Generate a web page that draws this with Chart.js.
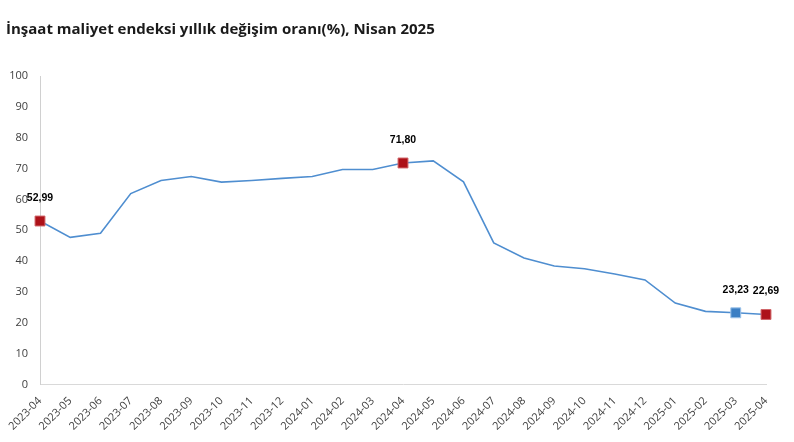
<!DOCTYPE html>
<html>
<head>
<meta charset="utf-8">
<script src="https://cdn.jsdelivr.net/npm/chart.js@4.4.1/dist/chart.umd.min.js"></script>
<style>
  html, body { margin: 0; padding: 0; background: #fff; }
  #wrap { width: 794px; height: 442px; position: relative; }
</style>
</head>
<body>
<div id="wrap"><canvas id="chart"></canvas></div>
<script>
const aylar = ['2023-04','2023-05','2023-06','2023-07','2023-08','2023-09','2023-10','2023-11','2023-12',
  '2024-01','2024-02','2024-03','2024-04','2024-05','2024-06','2024-07','2024-08','2024-09','2024-10',
  '2024-11','2024-12','2025-01','2025-02','2025-03','2025-04'];
const degisim = [52.99, 47.7, 49.0, 61.9, 66.1, 67.4, 65.6, 66.1, 66.8,
  67.4, 69.7, 69.7, 71.80, 72.5, 65.7, 45.9, 41.0, 38.4, 37.5,
  35.8, 33.9, 26.4, 23.7, 23.23, 22.69];
const etiketli = [0, 12, 23, 24]; // veri etiketi olan noktalar
const yTikler = [0, 10, 20, 30, 40, 50, 60, 70, 80, 90, 100];

const kirmizi = '#ad1219';
const mavi = '#3b7fc4';

// noktalarin ustune deger yazan basit eklenti
const etiketEklentisi = {
  id: 'etiketler',
  afterDatasetsDraw(chart) {
    const ctx = chart.ctx;
    const meta = chart.getDatasetMeta(0);
    ctx.save();
    ctx.font = 'bold 10.5px Arial, "Liberation Sans", sans-serif';
    ctx.fillStyle = '#000';
    ctx.textAlign = 'center';
    ctx.textBaseline = 'middle';
    etiketli.forEach(i => {
      const p = meta.data[i];
      const txt = degisim[i].toFixed(2).replace('.', ',');
      ctx.fillText(txt, p.x, p.y - 23);
    });
    ctx.restore();
  }
};

const ctx = document.getElementById('chart').getContext('2d');
new Chart(ctx, {
  type: 'line',
  data: {
    labels: aylar,
    datasets: [{
      data: degisim,
      borderColor: '#4f8ed0',
      borderWidth: 1.6,
      tension: 0,
      fill: false,
      pointStyle: 'rect',
      pointRadius: degisim.map((v, i) => etiketli.includes(i) ? 7 : 0),
      pointBackgroundColor: degisim.map((v, i) => i === 23 ? mavi : kirmizi),
      pointBorderColor: degisim.map((v, i) => i === 23 ? '#9cc3ea' : '#d0666a'),
      pointBorderWidth: 1
    }]
  },
  options: {
    responsive: true,
    maintainAspectRatio: false,
    animation: false,
    layout: { padding: { left: 6, right: 28, top: 4, bottom: 7 } },
    plugins: {
      legend: { display: false },
      tooltip: { enabled: false },
      title: {
        display: true,
        text: 'İnşaat maliyet endeksi yıllık değişim oranı(%), Nisan 2025',
        align: 'start',
        color: '#1a1a1a',
        font: { family: '"Open Sans", sans-serif', size: 15, weight: 'bold' },
        padding: { top: 17, bottom: 37 }
      }
    },
    scales: {
      x: {
        grid: { display: false },
        border: { color: '#d9d9d9', width: 1 },
        afterFit(s) { s.paddingLeft = 0; s.paddingRight = 0; },
        ticks: {
          color: '#404040',
          font: { family: '"Open Sans", sans-serif', size: 11 },
          maxRotation: 45,
          minRotation: 45,
          autoSkip: false,
          padding: 2
        }
      },
      y: {
        min: 0,
        max: 100,
        afterBuildTicks(axis) { axis.ticks = yTikler.map(v => ({ value: v })); },
        afterFit(s) { s.width = 34; },
        grid: { display: false, drawTicks: false },
        border: { color: '#d0d0d0', width: 1, dash: [2, 2] },
        ticks: {
          color: '#404040',
          font: { family: '"Open Sans", sans-serif', size: 11 },
          padding: 12
        }
      }
    }
  },
  plugins: [etiketEklentisi]
});
</script>
</body>
</html>
